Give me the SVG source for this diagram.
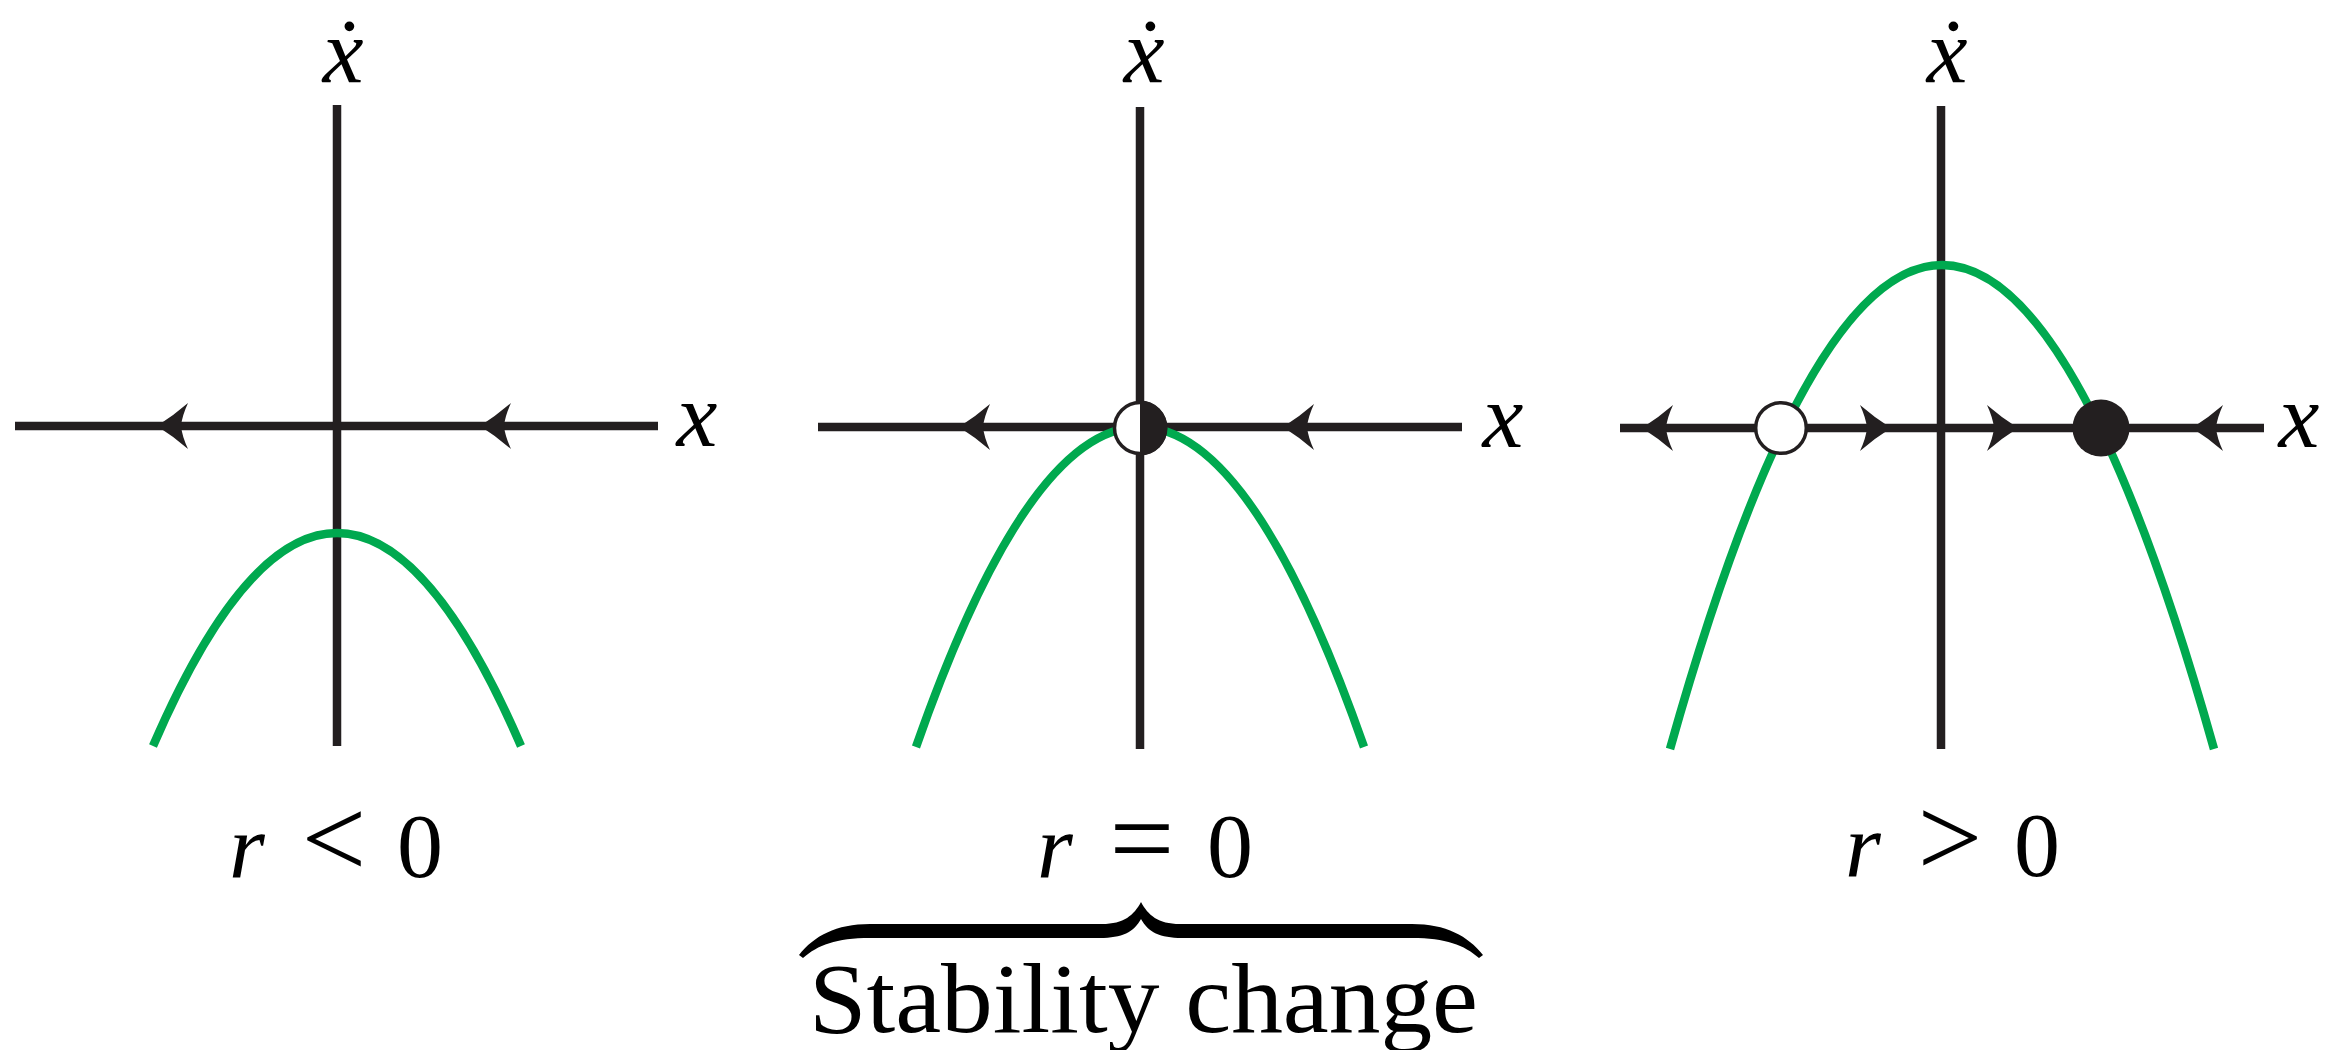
<svg xmlns="http://www.w3.org/2000/svg" xmlns:xlink="http://www.w3.org/1999/xlink" width="2337" height="1050" viewBox="0 0 2337 1050">
  <style>
    .axis { stroke: #231f20; stroke-width: 8.5; fill: none; }
    .curve { stroke: #00a94f; stroke-width: 8.5; fill: none; }
    .arrow { fill: #231f20; }
    .math { font-family: "Liberation Serif", "Times New Roman", serif; font-style: italic; font-size: 92px; fill: #000; }
    .num { font-family: "Liberation Serif", "Times New Roman", serif; font-size: 92px; fill: #000; }
    .op { font-family: "Liberation Serif", "Times New Roman", serif; font-size: 115px; fill: #000; }
    .word { font-family: "Liberation Serif", "Times New Roman", serif; font-size: 100px; fill: #000; }
    .open { fill: #fff; stroke: #231f20; stroke-width: 3.5; }
    .filled { fill: #231f20; }
  </style>
  <defs>
    <path id="ahL" class="arrow" d="M0,0 Q16,-10 31,-23 Q25,-10 24,0 Q25,10 31,23 Q16,10 0,0 Z"/>
    <path id="ahR" class="arrow" d="M0,0 Q-16,-10 -31,-23 Q-25,-10 -24,0 Q-25,10 -31,23 Q-16,10 0,0 Z"/>
  </defs>
  <rect width="2337" height="1050" fill="#fff"/>

  <g id="panel-neg">
    <g id="axes-neg">
      <line class="axis" x1="15" y1="426" x2="658" y2="426"/>
      <line class="axis" x1="337" y1="105" x2="337" y2="746"/>
    </g>
    <path id="curve-neg" class="curve" d="M153,746 Q337,320 521,746"/>
    <g id="arrows-neg">
      <use xlink:href="#ahL" x="157" y="426"/>
      <use xlink:href="#ahL" x="480" y="426"/>
    </g>
    <text class="math" x="697" y="446" text-anchor="middle">x</text>
    <text class="math" x="343" y="82" text-anchor="middle">ẋ</text>
    <text y="877"><tspan class="math" x="247" text-anchor="middle">r</tspan><tspan class="op" x="334" text-anchor="middle">&lt;</tspan><tspan class="num" x="420" text-anchor="middle">0</tspan></text>
  </g>

  <g id="panel-zero">
    <g id="axes-zero">
      <line class="axis" x1="818" y1="427" x2="1462" y2="427"/>
      <line class="axis" x1="1140" y1="107" x2="1140" y2="749"/>
    </g>
    <path id="curve-zero" class="curve" d="M916,747 Q1140,107 1364,747"/>
    <g id="arrows-zero">
      <use xlink:href="#ahL" x="959" y="427"/>
      <use xlink:href="#ahL" x="1283" y="427"/>
    </g>
    <g id="fp-half">
      <circle class="open" cx="1140" cy="428" r="25.5"/>
      <path class="filled" d="M1140,400.5 A27.5,27.5 0 0 1 1140,455.5 Z"/>
    </g>
    <text class="math" x="1503" y="447" text-anchor="middle">x</text>
    <text class="math" x="1144" y="82" text-anchor="middle">ẋ</text>
    <text y="877"><tspan class="math" x="1055" text-anchor="middle">r</tspan><tspan class="op" x="1142" text-anchor="middle">=</tspan><tspan class="num" x="1230" text-anchor="middle">0</tspan></text>
  </g>

  <g id="panel-pos">
    <g id="axes-pos">
      <line class="axis" x1="1620" y1="428" x2="2264" y2="428"/>
      <line class="axis" x1="1941" y1="106" x2="1941" y2="749"/>
    </g>
    <path id="curve-pos" class="curve" d="M1670,749 Q1942,-219 2214,749"/>
    <g id="arrows-pos">
      <use xlink:href="#ahL" x="1642" y="428"/>
      <use xlink:href="#ahR" x="1891" y="428"/>
      <use xlink:href="#ahR" x="2018" y="428"/>
      <use xlink:href="#ahL" x="2192" y="428"/>
    </g>
    <circle id="fp-unstable" class="open" cx="1781" cy="428" r="25.3"/>
    <circle id="fp-stable" class="filled" cx="2101" cy="428" r="28.5"/>
    <text class="math" x="2299" y="447" text-anchor="middle">x</text>
    <text class="math" x="1947" y="82" text-anchor="middle">ẋ</text>
    <text y="876"><tspan class="math" x="1863" text-anchor="middle">r</tspan><tspan class="op" x="1950" text-anchor="middle">&gt;</tspan><tspan class="num" x="2037" text-anchor="middle">0</tspan></text>
  </g>

  <g id="brace-label">
    <path fill="#000" d="M799,955 C814,936 836,924 870,924 L1102,924 C1124,924 1134,915 1141,902 C1148,915 1158,924 1180,924 L1412,924 C1446,924 1468,936 1483,955 L1479,958 C1464,945 1446,938 1412,938 L1182,938 C1160,938 1148,932 1141,919 C1134,932 1122,938 1100,938 L870,938 C836,938 818,945 803,958 Z"/>
    <text class="word" x="809" y="1032" textLength="669" lengthAdjust="spacingAndGlyphs">Stability change</text>
  </g>
</svg>
